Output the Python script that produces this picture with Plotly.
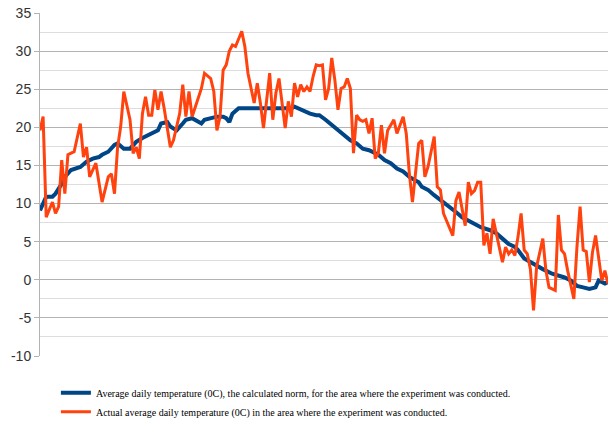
"""Norm vs actual average daily temperature chart."""

import plotly.graph_objects as go

BLUE = "#004586"
ORANGE = "#ff420e"

# Calculated norm (day index, temperature 0C)
norm_days = [0, 2, 4, 5, 7, 8, 10, 12, 13, 15, 17, 19, 20, 22, 24, 25, 27, 29, 30, 31,
             33, 35, 38, 39, 41, 42, 44, 46, 47, 49, 50, 52, 53, 55, 57, 59, 60, 61, 62,
             64, 66, 68, 70, 73, 75, 77, 79, 81, 82, 84, 87, 89, 90, 92, 94, 96, 98, 100,
             102, 104, 106, 109, 111, 113, 115, 117, 119, 122, 123, 125, 127, 130, 132,
             134, 136, 138, 140, 142, 145, 147, 149, 151, 153, 154, 156, 158, 160, 162,
             165, 167, 169, 171, 173, 175, 177, 179, 180, 182, 183]
norm_temp = [9.1, 10.9, 10.9, 11.3, 12.6, 13.5, 14.4, 14.6, 14.8, 15.5, 15.9, 16.1, 16.4,
             16.8, 17.7, 17.9, 17.2, 17.2, 17.7, 18.1, 18.6, 19.0, 19.6, 20.5, 20.7, 20.1,
             19.6, 20.5, 21.0, 21.2, 21.0, 20.5, 21.0, 21.2, 21.4, 21.4, 21.2, 20.7, 21.8,
             22.5, 22.5, 22.4, 22.4, 22.4, 22.5, 22.5, 22.5, 22.5, 22.7, 22.3, 21.8, 21.6,
             21.6, 21.0, 20.3, 19.7, 19.0, 18.3, 17.9, 17.2, 17.0, 16.4, 15.7, 15.3, 14.6,
             14.2, 13.5, 12.8, 12.2, 11.8, 11.1, 10.2, 9.6, 8.9, 8.2, 7.8, 7.4, 6.9, 6.5,
             6.1, 5.4, 4.7, 4.3, 3.9, 2.8, 2.3, 1.9, 1.4, 0.8, 0.6, 0.3, -0.1, -0.8, -1.0,
             -1.2, -1.0, -0.1, -0.5, -0.3]

# Actual measurements (day index, temperature 0C)
actual_days = [0, 1, 2, 4, 5, 6, 7, 8, 9, 11, 13, 14, 15, 16, 18, 20, 22, 23, 24, 25, 26,
               27, 29, 30, 31, 32, 33, 34, 35, 36, 37, 38, 39, 40, 42, 43, 45, 46, 47, 48,
               49, 51, 52, 53, 55, 56, 57, 58, 59, 60, 61, 62, 63, 65, 66, 67, 68, 69, 70,
               71, 72, 74, 75, 76, 77, 78, 79, 80, 81, 82, 83, 84, 85, 86, 87, 88, 89, 90,
               91, 92, 93, 94, 95, 96, 97, 98, 99, 100, 101, 102, 103, 104, 105, 106, 107,
               108, 109, 110, 111, 112, 114, 115, 117, 118, 119, 120, 121, 122, 123, 124,
               125, 127, 128, 129, 130, 131, 133, 134, 135, 137, 138, 139, 140, 141, 142,
               143, 144, 145, 146, 147, 148, 149, 150, 151, 152, 153, 154, 155, 156, 157,
               158, 159, 160, 162, 163, 164, 166, 167, 168, 169, 170, 172, 173, 174, 175,
               176, 177, 178, 179, 180, 181, 182, 183]
actual_temp = [19.6, 21.4, 8.2, 10.2, 8.7, 9.6, 15.7, 11.3, 16.4, 16.8, 20.5, 16.1, 17.4,
               13.5, 15.3, 10.2, 13.5, 13.9, 11.3, 17.4, 20.1, 24.7, 21.0, 16.6, 17.4, 15.9,
               21.8, 24.0, 21.6, 21.6, 24.9, 22.3, 24.7, 22.5, 17.4, 18.3, 21.8, 25.6, 21.4,
               24.7, 21.4, 23.8, 25.1, 27.1, 26.4, 24.7, 19.6, 21.4, 27.5, 28.2, 30.0, 30.8,
               30.6, 32.6, 30.6, 27.1, 25.3, 23.2, 25.8, 23.2, 19.9, 27.1, 21.0, 24.5, 26.4,
               22.7, 19.9, 23.4, 21.4, 25.8, 24.0, 25.6, 24.7, 25.3, 24.7, 26.7, 28.2, 28.1,
               28.2, 23.6, 25.1, 29.1, 26.2, 22.3, 25.1, 25.3, 26.4, 25.1, 16.6, 21.6, 21.0,
               20.8, 21.0, 19.2, 21.2, 15.9, 16.6, 20.3, 16.6, 19.6, 21.0, 19.2, 21.4, 19.2,
               13.9, 10.2, 13.9, 17.9, 18.3, 13.5, 14.8, 18.8, 12.2, 11.8, 8.7, 7.8, 5.8,
               10.4, 11.5, 7.1, 12.8, 11.3, 11.7, 12.8, 12.8, 4.5, 6.1, 3.4, 8.0, 6.1, 4.3,
               2.3, 4.3, 3.4, 3.9, 3.2, 5.6, 8.7, 3.9, 3.4, 1.4, -4.0, 1.7, 5.4, 1.2, -1.0,
               -1.4, 8.5, 3.9, 3.4, 1.2, -2.5, 4.3, 9.6, 3.9, 3.7, -0.3, 3.6, 5.8, 2.5, -0.1,
               1.2, -0.5]

y_ticks = [-10, -5, 0, 5, 10, 15, 20, 25, 30, 35]

norm_label = ("Average daily temperature (0C), the calculated norm, "
              "for the area where the experiment was conducted.")
actual_label = "Actual average daily temperature (0C) in the area where the experiment was conducted."

fig = go.Figure()

fig.add_trace(
    go.Scatter(
        x=norm_days,
        y=norm_temp,
        mode="lines",
        name=norm_label,
        legendgroup="norm",
        line={"color": BLUE, "width": 4},
    )
)
fig.add_trace(
    go.Scatter(
        x=actual_days,
        y=actual_temp,
        mode="lines",
        name=actual_label,
        legendgroup="actual",
        line={"color": ORANGE, "width": 3},
    )
)

fig.update_layout(
    width=608,
    height=427,
    plot_bgcolor="white",
    paper_bgcolor="white",
    margin={"t": 13, "b": 71, "l": 40, "r": 0, "pad": 0, "autoexpand": False},
    xaxis={
        "range": [0, 183],
        "showgrid": False,
        "showticklabels": False,
        "zeroline": False,
        "showline": False,
        "ticks": "",
        "automargin": False,
    },
    yaxis={
        "range": [-10, 35],
        "tickvals": y_ticks,
        "ticktext": [str(t) for t in y_ticks],
        "tickfont": {"family": "Liberation Sans", "size": 14, "color": "#333333"},
        "gridcolor": "#b3b3b3",
        "gridwidth": 1,
        "zeroline": False,
        "showline": True,
        "linecolor": "#b3b3b3",
        "linewidth": 1,
        "ticks": "outside",
        "ticklen": 5,
        "tickcolor": "#b3b3b3",
        "automargin": False,
        "minor": {"dtick": 2.5, "showgrid": True, "gridcolor": "#dddddd", "gridwidth": 1},
    },
    showlegend=True,
    legend={
        "orientation": "v",
        "x": 0.028,
        "xanchor": "left",
        "y": -0.065,
        "yanchor": "top",
        "font": {"family": "Liberation Serif", "size": 10, "color": "#000000"},
        "traceorder": "grouped",
        "tracegroupgap": 0,
        "bgcolor": "rgba(0,0,0,0)",
    },
)

# drop the default page margin so the figure sits at the window origin
fig.write_html(
    "out.html",
    config={"displayModeBar": False},
    post_script="document.body.style.margin = '0';",
)
